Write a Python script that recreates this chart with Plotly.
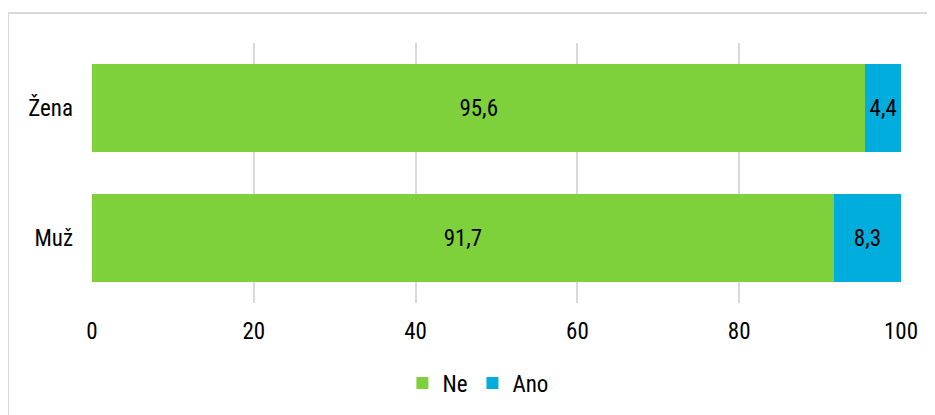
import plotly.graph_objects as go

categories = ["Muž", "Žena"]
ne_values = [91.7, 95.6]
ano_values = [8.3, 4.4]
x_ticks = [0, 20, 40, 60, 80, 100]

FONT = "Liberation Sans Narrow, Arial Narrow, Roboto Condensed, Liberation Sans, Arial, sans-serif"

fig = go.Figure()
fig.add_trace(go.Bar(
    y=categories, x=ne_values, name="Ne", orientation="h",
    marker=dict(color="#7FD13B", line=dict(width=0)),
    texttemplate="%{x:.1f}", textposition="inside", insidetextanchor="middle",
    textfont=dict(color="black", size=23, family=FONT), constraintext="none",
))
fig.add_trace(go.Bar(
    y=categories, x=ano_values, name="Ano", orientation="h",
    marker=dict(color="#00ADDC", line=dict(width=0)),
    texttemplate="%{x:.1f}", textposition="inside", insidetextanchor="middle",
    textfont=dict(color="black", size=23, family=FONT), constraintext="none",
))

fig.update_layout(
    barmode="stack",
    bargap=0.33,
    width=935, height=415,
    margin=dict(l=84, r=42, t=35, b=120),
    paper_bgcolor="white", plot_bgcolor="white",
    separators=", ",
    font=dict(family=FONT, size=23, color="black"),
    legend=dict(orientation="h", x=0.477, xanchor="center", y=-0.225, yanchor="top",
                font=dict(size=23, family=FONT), itemwidth=30, traceorder="normal"),
    xaxis=dict(range=[0, 100], tickvals=x_ticks, showgrid=True, gridcolor="#d9d9d9",
               gridwidth=2, zeroline=False, showline=False, ticks="",
               ticklabelstandoff=12, fixedrange=True),
    yaxis=dict(showgrid=False, zeroline=False, showline=False, ticks="",
               ticklabelstandoff=18, categoryorder="array", categoryarray=categories),
    shapes=[dict(type="rect", xref="paper", yref="paper", x0=-0.1038, x1=1.2,
                 y0=-0.6, y1=1.1154, line=dict(color="#d9d9d9", width=2), layer="below")],
)

fig.write_html("out.html")
